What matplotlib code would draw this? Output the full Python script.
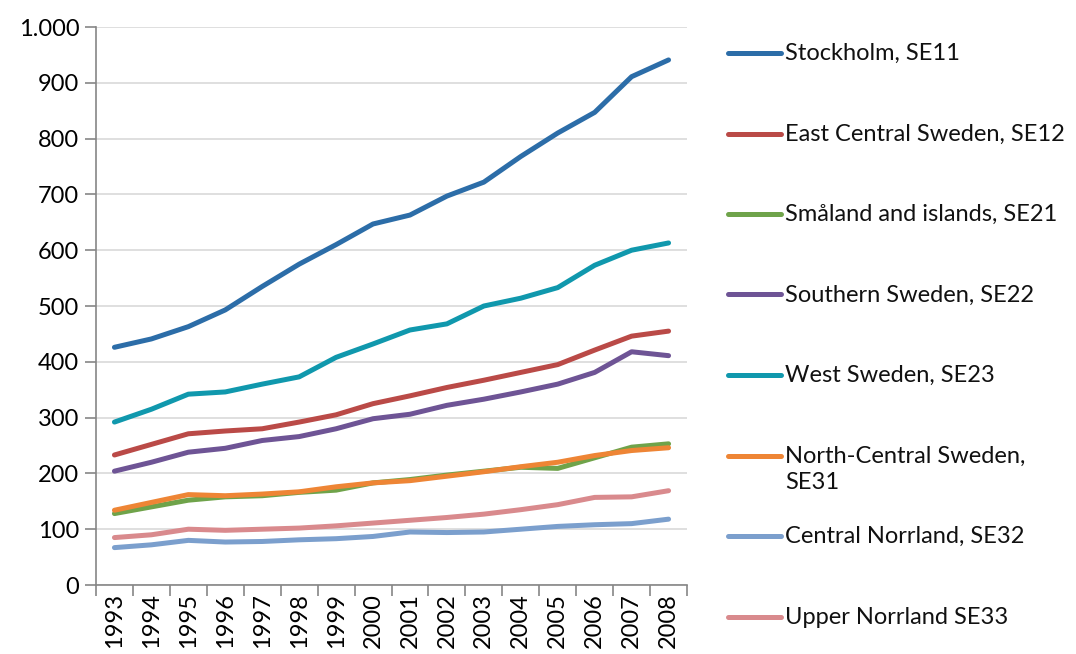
import matplotlib
matplotlib.use("Agg")
import matplotlib.pyplot as plt
from matplotlib.lines import Line2D
from matplotlib.ticker import FuncFormatter, FixedLocator
import numpy as np

plt.rcParams['font.family'] = ['Lato', 'DejaVu Sans']

years = [str(y) for y in range(1993, 2009)]

stockholm = [426, 441, 463, 493, 535, 575, 610, 647, 663, 697, 722, 768, 810, 847, 911, 941]
east_central = [233, 252, 271, 276, 280, 292, 305, 325, 339, 354, 367, 381, 395, 421, 446, 455]
smaland = [128, 140, 152, 158, 160, 166, 170, 183, 189, 197, 204, 211, 209, 228, 247, 253]
southern = [204, 220, 238, 245, 259, 266, 280, 298, 306, 322, 333, 346, 360, 381, 418, 411]
west = [292, 315, 342, 346, 360, 373, 408, 432, 457, 468, 500, 514, 533, 573, 600, 613]
north_central = [134, 148, 162, 160, 163, 167, 176, 183, 187, 195, 203, 212, 220, 232, 241, 246]
central_norrland = [67, 72, 80, 77, 78, 81, 83, 87, 95, 94, 95, 100, 105, 108, 110, 118]
upper_norrland = [85, 90, 100, 98, 100, 102, 106, 111, 116, 121, 127, 135, 144, 157, 158, 169]

labels = ["Stockholm, SE11", "East Central Sweden, SE12", "Småland and islands, SE21",
          "Southern Sweden, SE22", "West Sweden, SE23", "North-Central Sweden,\nSE31",
          "Central Norrland, SE32", "Upper Norrland SE33"]
series = [stockholm, east_central, smaland, southern, west, north_central,
          central_norrland, upper_norrland]
colors = ["#2C6DA8", "#BA4A47", "#6FA34A", "#6E5495", "#1098AD", "#EE8535",
          "#7B9FCD", "#D98A8D"]

fig = plt.figure(figsize=(10.76, 6.54), dpi=100)
ax = fig.add_axes([0.0892, 0.1055, 0.5493, 0.8532])

x = np.arange(len(years))
for vals, c in zip(series, colors):
    ax.plot(x, vals, color=c, lw=3.6, solid_capstyle='round', solid_joinstyle='round')

ax.set_xlim(-0.5, len(years) - 0.5)
ax.set_ylim(0, 1000)
ax.set_yticks(range(0, 1001, 100))
ax.yaxis.set_major_formatter(FuncFormatter(lambda v, p: f"{int(v):,}".replace(",", ".")))
ax.grid(axis='y', color='#D9D9D9', lw=1.2)
ax.set_axisbelow(True)

ax.set_xticks(x)
ax.set_xticklabels(years, rotation=90, fontsize=17)
ax.xaxis.set_minor_locator(FixedLocator(np.arange(-0.5, len(years), 1.0)))
ax.tick_params(axis='x', which='major', length=0, pad=6)
ax.tick_params(axis='x', which='minor', length=8, width=1.2, color='#868686')
ax.tick_params(axis='y', length=8, width=1.2, color='#868686', labelsize=17, pad=4)

for s in ['top', 'right']:
    ax.spines[s].set_visible(False)
for s in ['left', 'bottom']:
    ax.spines[s].set_color('#868686')
    ax.spines[s].set_linewidth(1.2)

# legend drawn by hand so the two-line entry keeps even spacing
y0 = 1 - 53 / 654
step = 80.5 / 654
for i, (lab, c) in enumerate(zip(labels, colors)):
    yy = y0 - i * step
    fig.add_artist(Line2D([728 / 1076, 781 / 1076], [yy, yy], color=c, lw=3.6,
                          solid_capstyle='round', transform=fig.transFigure))
    fig.text(785 / 1076, yy + 10 / 654, lab, fontsize=17, va='top', ha='left',
             color='#111111', linespacing=1.3)

fig.savefig("out.png", dpi=100)
